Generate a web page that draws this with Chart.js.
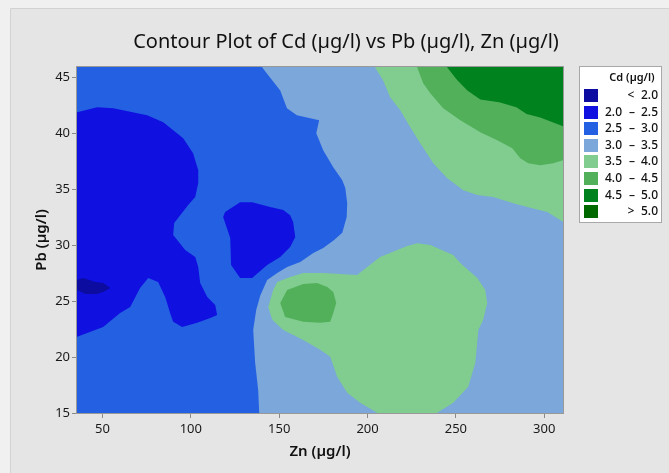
<!DOCTYPE html>
<html><head><meta charset="utf-8">
<script src="https://cdn.jsdelivr.net/npm/chart.js@4.4.0/dist/chart.umd.min.js"></script>
<style>html,body{margin:0;padding:0;background:#efefef;}#wrap{width:669px;height:473px;}</style>
</head><body><div id="wrap"><canvas id="c" width="669" height="473"></canvas></div>
<script>
// ---- tick labels ----
const xTicks = [50, 100, 150, 200, 250, 300];
const yTicks = [15, 20, 25, 30, 35, 40, 45];
// ---- contour levels (Cd, µg/l) and colours ----
const levels = [2.0, 2.5, 3.0, 3.5, 4.0, 4.5, 5.0];
const levelColors = ['#0c0ca0', '#1010e0', '#2460e2', '#7ba7da', '#80cd8f', '#52b05a', '#00821f', '#006a00'];

// ---- contour regions (Zn, Pb) ----
const base_Zn = [30, 320, 320, 30];
const base_Pb = [14, 14, 47, 47];

const lowLeft_Zn = [30, 35.7, 47.0, 56.1, 75.3, 84.4, 95.7, 101.3, 104.2, 104.2, 102.5, 98.5, 94.0, 90.6, 90.0, 92.3, 96.8, 102.5, 104.2, 105.3, 109.3, 113.8, 114.9, 111.0, 103.6, 95.1, 90.0, 88.3, 85.5, 81.5, 75.9, 71.3, 65.7, 60.0, 50.4, 35.7, 30];
const lowLeft_Pb = [41.85, 41.85, 42.30, 42.21, 41.59, 40.96, 39.54, 38.20, 36.68, 35.53, 34.28, 33.57, 32.67, 31.96, 30.9, 30.44, 29.55, 28.93, 28.04, 26.61, 25.36, 24.65, 23.76, 23.49, 23.05, 22.69, 23.14, 23.94, 25.36, 26.70, 27.06, 26.16, 24.47, 23.94, 22.69, 21.80, 21.80];

const lowest_Zn = [30, 35.7, 39.1, 45.9, 50.4, 54.4, 50.4, 47.0, 40.2, 35.7, 30];
const lowest_Pb = [26.88, 26.88, 27.06, 26.70, 26.61, 26.16, 25.81, 25.63, 25.63, 25.99, 25.99];

const lowMid_Zn = [127.9, 119.4, 118.3, 122.3, 122.8, 127.9, 134.7, 143.2, 150.6, 156.2, 159.1, 157.9, 156.2, 152.3, 144.9, 134.7];
const lowMid_Pb = [33.83, 32.94, 32.50, 30.62, 28.21, 27.06, 27.06, 28.21, 28.93, 29.82, 30.71, 32.05, 32.67, 33.12, 33.39, 33.83];

const over30_Zn = [140.4, 150.6, 154.4, 160.0, 172.6, 171.0, 174.9, 180.6, 185.7, 187.4, 188.5, 188.2, 185.7, 181.1, 174.9, 169.3, 161.9, 154.5, 148.9, 143.2, 139.3, 137.0, 135.3, 136.4, 138.1, 138.7, 138.7, 320, 320, 140.4];
const over30_Pb = [45.86, 43.81, 42.21, 41.59, 41.14, 39.98, 38.47, 36.95, 35.79, 35.1, 33.74, 32.5, 31.1, 30.44, 29.73, 29.29, 28.48, 28.04, 27.50, 26.88, 25.5, 24.2, 22.42, 19.48, 17.08, 15.03, 14, 14, 47, 47];

const over35Top_Zn = [204.3, 204.3, 208.8, 212.8, 218.5, 224.2, 229.8, 237.2, 245.1, 254.2, 262.1, 271.1, 282.4, 290.4, 301.7, 310.8, 320, 320];
const over35Top_Pb = [47, 45.86, 44.71, 43.19, 42.03, 40.52, 39.09, 37.31, 35.97, 34.90, 34.46, 34.28, 33.74, 33.39, 32.94, 32.05, 31.5, 47];

const over35Mid_Zn = [228.1, 222.0, 207.1, 199.8, 194.1, 174.9, 163.6, 156.2, 148.9, 146.6, 143.8, 146.1, 152.3, 163.6, 173.2, 178.9, 182.8, 188.5, 195.8, 205.4, 205.4, 239.4, 239.4, 248.5, 257.0, 261.0, 262.7, 265.5, 267.7, 266.6, 262.1, 252.5, 248.5, 235.5];
const over35Mid_Pb = [30.17, 29.9, 28.93, 28.04, 27.32, 27.50, 27.50, 27.15, 26.70, 25.99, 24.47, 23.32, 22.42, 21.53, 20.64, 20.02, 18.23, 16.81, 15.92, 15.03, 14, 14, 15.03, 15.92, 17.34, 19.48, 22.42, 23.32, 24.83, 25.99, 27.06, 28.39, 29.11, 30.0];

const over40Top_Zn = [228.1, 228.1, 231.5, 235.5, 242.8, 252.5, 263.8, 273.4, 281.9, 286.4, 290.9, 297.7, 305.1, 310.8, 320, 320];
const over40Top_Pb = [47, 45.86, 44.44, 43.55, 42.21, 41.14, 40.07, 39.36, 38.65, 37.75, 37.31, 37.13, 37.31, 37.58, 37.6, 47];

const over40Mid_Zn = [154.5, 150.6, 153.4, 163.6, 173.2, 178.9, 180.6, 182.3, 180.6, 177.2, 171.5, 163.6];
const over40Mid_Pb = [25.99, 24.83, 23.58, 23.14, 23.05, 23.14, 23.94, 24.83, 25.81, 26.25, 26.61, 26.52];

const over45Top_Zn = [245.1, 245.1, 250.8, 256.5, 263.8, 274.5, 284.2, 290.0, 297.7, 310.8, 320, 320];
const over45Top_Pb = [47, 45.86, 44.71, 43.81, 43.0, 42.75, 42.3, 41.7, 41.4, 40.6, 40.4, 47];

// regions in painting order (band index into levelColors)
const regions = [
  [base_Zn, base_Pb, 2],
  [lowLeft_Zn, lowLeft_Pb, 1],
  [lowest_Zn, lowest_Pb, 0],
  [lowMid_Zn, lowMid_Pb, 1],
  [over30_Zn, over30_Pb, 3],
  [over35Top_Zn, over35Top_Pb, 4],
  [over35Mid_Zn, over35Mid_Pb, 4],
  [over40Top_Zn, over40Top_Pb, 5],
  [over40Mid_Zn, over40Mid_Pb, 5],
  [over45Top_Zn, over45Top_Pb, 6]
];

const FONT = "'Noto Sans', 'DejaVu Sans', sans-serif";
Chart.defaults.font.family = FONT;

const datasets = regions.map((r, i) => ({
  data: r[0].map((z, k) => ({x: z, y: r[1][k]})),
  backgroundColor: levelColors[r[2]],
  borderColor: levelColors[r[2]],
  borderWidth: 0,
  pointRadius: 0,
  fill: 'shape',
  tension: 0,
  order: -i
}));

const bgPlugin = {
  id: 'bg',
  beforeDraw(chart) {
    const ctx = chart.ctx;
    ctx.save();
    ctx.fillStyle = '#f0f0f0';
    ctx.fillRect(0, 0, chart.width, chart.height);
    ctx.fillStyle = '#e5e5e5';
    ctx.fillRect(11, 9, chart.width - 11, chart.height - 9);
    ctx.strokeStyle = '#d2d2d2';
    ctx.lineWidth = 1;
    ctx.beginPath();
    ctx.moveTo(10.5, chart.height); ctx.lineTo(10.5, 8.5); ctx.lineTo(chart.width, 8.5);
    ctx.stroke();
    ctx.restore();
  }
};

const framePlugin = {
  id: 'frame',
  afterDatasetsDraw(chart) {
    const {ctx, chartArea: a} = chart;
    ctx.save();
    ctx.strokeStyle = '#999999';
    ctx.lineWidth = 1;
    ctx.strokeRect(Math.round(a.left) - 0.5, Math.round(a.top) - 0.5, Math.round(a.right - a.left) + 1, Math.round(a.bottom - a.top) + 1);
    ctx.restore();
  }
};

const textPlugin = {
  id: 'texts',
  afterDraw(chart) {
    const ctx = chart.ctx;
    ctx.save();
    // main title
    ctx.fillStyle = '#111';
    ctx.font = '20px ' + FONT;
    ctx.textAlign = 'center';
    ctx.textBaseline = 'middle';
    ctx.fillText('Contour Plot of Cd (µg/l) vs Pb (µg/l), Zn (µg/l)', 346, 42);
    // legend box
    const bx = 579, by = 66, bw = 83, bh = 157;
    ctx.fillStyle = '#ffffff';
    ctx.fillRect(bx, by, bw, bh);
    ctx.strokeStyle = '#a8a8a8';
    ctx.strokeRect(bx + 0.5, by + 0.5, bw - 1, bh - 1);
    ctx.fillStyle = '#111';
    ctx.font = '600 11px ' + FONT;
    ctx.textAlign = 'center';
    ctx.fillText('Cd (µg/l)', 632, 78);
    const n = levelColors.length;
    for (let i = 0; i < n; i++) {
      const y0 = 89 + i * 16.6;
      ctx.fillStyle = levelColors[i];
      ctx.fillRect(584, Math.round(y0), 14, 13);
      ctx.fillStyle = '#111';
      ctx.font = '500 12px ' + FONT;
      const cy = Math.round(y0) + 7;
      if (i === 0) {
        ctx.textAlign = 'center'; ctx.fillText('<', 631, cy);
        ctx.textAlign = 'right'; ctx.fillText(levels[0].toFixed(1), 658, cy);
      } else if (i === n - 1) {
        ctx.textAlign = 'center'; ctx.fillText('>', 631, cy);
        ctx.textAlign = 'right'; ctx.fillText(levels[n - 2].toFixed(1), 658, cy);
      } else {
        ctx.textAlign = 'right'; ctx.fillText(levels[i - 1].toFixed(1), 622, cy);
        ctx.textAlign = 'center'; ctx.fillText('–', 632, cy);
        ctx.textAlign = 'right'; ctx.fillText(levels[i].toFixed(1), 658, cy);
      }
    }
    ctx.restore();
  }
};

new Chart(document.getElementById('c'), {
  type: 'line',
  data: { datasets },
  plugins: [bgPlugin, framePlugin, textPlugin],
  options: {
    responsive: false,
    animation: false,
    devicePixelRatio: 1,
    layout: { padding: { top: 67, right: 106, left: 0, bottom: 0 } },
    plugins: { legend: { display: false }, tooltip: { enabled: false }, title: { display: false },
      filler: { propagate: false } },
    scales: {
      x: {
        type: 'linear', min: 35.6, max: 310.6,
        afterBuildTicks: s => { s.ticks = xTicks.map(v => ({ value: v })); },
        afterFit: s => { s.height = 60; },
        ticks: { font: { size: 13 }, color: '#1a1a1a', padding: 3, maxRotation: 0, autoSkip: false },
        grid: { drawOnChartArea: false, drawTicks: true, tickLength: 5, color: '#8a8a8a' },
        border: { display: false },
        title: { display: true, text: 'Zn (µg/l)', color: '#111', font: { size: 15, weight: '600' }, padding: { top: 0, bottom: 12 } }
      },
      y: {
        type: 'linear', min: 15, max: 45.9,
        afterBuildTicks: s => { s.ticks = yTicks.map(v => ({ value: v })); },
        afterFit: s => { s.width = 77; },
        ticks: { font: { size: 13 }, color: '#1a1a1a', padding: 2, autoSkip: false },
        grid: { drawOnChartArea: false, drawTicks: true, tickLength: 5, color: '#8a8a8a' },
        border: { display: false },
        title: { display: true, text: 'Pb (µg/l)', color: '#111', font: { size: 15, weight: '600' }, padding: { top: 33, bottom: 0 } }
      }
    }
  }
});
</script>
</body></html>
